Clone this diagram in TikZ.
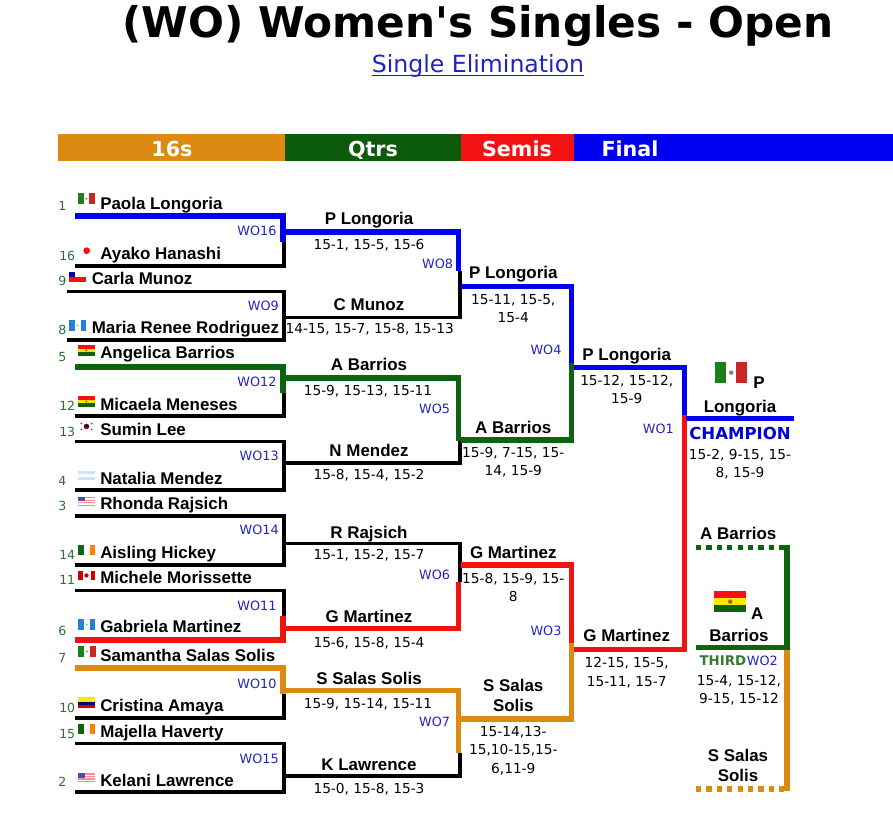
\documentclass[tikz,border=0pt]{standalone}
\usepackage{fontspec}
\setmainfont{Liberation Sans}
\newfontfamily\vd{DejaVu Sans}
\definecolor{cOr}{HTML}{DC8A12}
\definecolor{cGr}{HTML}{0E640E}
\definecolor{cRd}{HTML}{F21212}
\definecolor{cBl}{HTML}{0000F0}
\definecolor{cWo}{HTML}{2222C4}
\definecolor{cSeed}{HTML}{2E6E32}
\tikzset{
 plr/.style={anchor=base west,font=\fontsize{12.7pt}{15.5pt}\selectfont\bfseries,inner sep=0pt},
 winr/.style={anchor=base,align=center,font=\fontsize{12.7pt}{15.5pt}\selectfont\bfseries,inner sep=0pt},
 scr/.style={anchor=base,align=center,font=\vd\fontsize{10.3pt}{13.7pt}\selectfont,inner sep=0pt},
 seed/.style={anchor=base west,text=cSeed,font=\vd\fontsize{9.4pt}{11pt}\selectfont,inner sep=0pt},
 wo/.style={anchor=base east,text=cWo,font=\vd\fontsize{9.6pt}{11pt}\selectfont,inner sep=0pt},
 hd/.style={anchor=base,text=white,font=\vd\fontsize{15.5pt}{18pt}\selectfont\bfseries,inner sep=0pt},
 blk/.style={line width=2.6pt,black},
 vblk/.style={line width=2.3pt,black},
 thk/.style={line width=3.8pt,#1},
 dots/.style={line width=3.8pt,#1,dash pattern=on 3.9pt off 3.9pt}
}
\newcommand{\flagMx}[2]{\begin{scope}[shift={(#1)},scale=#2]
 \fill [green!45!black!90!white] (0,0) rectangle (6,11.5);
 \fill [red!75!black!85!white] (11.5,0) rectangle (17.5,11.5);
 \fill [gray] (8.75,5.75) circle (1.2);
\end{scope}}
\newcommand{\flagBo}[2]{\begin{scope}[shift={(#1)},scale=#2]
 \fill [cRd] (0,0) rectangle (17.5,3.8);
 \fill [yellow!90!orange] (0,3.8) rectangle (17.5,7.7);
 \fill [cGr] (0,7.7) rectangle (17.5,11.5);
 \fill [brown!80!black] (8.75,5.75) circle (1.2);
\end{scope}}
\newcommand{\flagGt}[1]{\begin{scope}[shift={(#1)}]
 \fill [blue!50!cyan!70!gray] (0,0) rectangle (6,11);
 \fill [blue!50!cyan!70!gray] (11.5,0) rectangle (17,11);
 \fill [gray!70!cyan] (8.5,5.5) circle (1);
\end{scope}}
\newcommand{\flagIe}[1]{\begin{scope}[shift={(#1)}]
 \fill [cGr] (0,0) rectangle (5.5,10);
 \fill [orange] (11.5,0) rectangle (17,10);
\end{scope}}
\newcommand{\flagUs}[1]{\begin{scope}[shift={(#1)}]
 \fill [red!45] (0,0) rectangle (17,9);
 \fill [white] (0,1.5) rectangle (17,2.6);
 \fill [white] (0,4) rectangle (17,5.1);
 \fill [white] (0,6.5) rectangle (17,7.6);
 \fill [blue!40!gray] (0,0) rectangle (7,4.5);
\end{scope}}

\begin{document}
\begin{tikzpicture}[x=0.75pt,y=0.75pt,yscale=-1,xscale=1]
 \useasboundingbox (0,0) rectangle (893,823);
 %title
 \draw (478,38) node (title) [anchor=base,inner sep=0pt,font=\vd\fontsize{31.7pt}{36pt}\selectfont\bfseries] {(WO) Women's Singles - Open};
 \draw (478,73) node (elim) [anchor=base,inner sep=0pt,text=cWo,font=\vd\fontsize{17.7pt}{20pt}\selectfont] {Single Elimination};
 \draw [cWo,line width=0.9pt] (372,75.5) -- (584,75.5);

 %header bar
 \fill [cOr] (58,134) rectangle (285,161);
 \fill [cGr!90!black] (285,134) rectangle (461,161);
 \fill [cRd] (461,134) rectangle (574,161);
 \fill [cBl] (574,134) rectangle (893,161);
 \draw (172,156.7) node (hSixteen) [hd] {16s};
 \draw (373,156.7) node (hQtrs) [hd] {Qtrs};
 \draw (517,156.7) node (hSemis) [hd] {Semis};
 \draw (630,156.7) node (hFinal) [hd] {Final};

 %first round
 \draw [thk=cBl] (75,216) -- (285.5,216);
 \draw [blk] (75,266) -- (285.5,266);
 \draw [blk] (67,291.3) -- (285.5,291.3);
 \draw [blk] (67,340) -- (285.5,340);
 \draw [thk=cGr] (75,367) -- (285.5,367);
 \draw [blk] (75,416) -- (285.5,416);
 \draw [blk] (75,441.5) -- (285.5,441.5);
 \draw [blk] (75,490) -- (285.5,490);
 \draw [blk] (75,516) -- (285.5,516);
 \draw [blk] (75,565) -- (285.5,565);
 \draw [blk] (75,590.5) -- (285.5,590.5);
 \draw [thk=cRd] (75,640) -- (285.5,640);
 \draw [thk=cOr] (75,668) -- (285.5,668);
 \draw [blk] (75,718) -- (285.5,718);
 \draw [blk] (75,743.5) -- (285.5,743.5);
 \draw [blk] (75,792) -- (285.5,792);
 \draw [vblk] (284,242) -- (284,267);
 \draw [vblk] (284,290) -- (284,341);
 \draw [vblk] (284,392) -- (284,417);
 \draw [vblk] (284,441) -- (284,491);
 \draw [vblk] (284,515) -- (284,566);
 \draw [vblk] (284,590) -- (284,616);
 \draw [vblk] (284,694) -- (284,719);
 \draw [vblk] (284,743) -- (284,793);
 \draw [thk=cBl] (283,214) -- (283,242.3);
 \draw [thk=cGr] (283,365) -- (283,392.7);
 \draw [thk=cRd] (283,615.7) -- (283,642);
 \draw [thk=cOr] (283,666) -- (283,694);

 %quarter finals
 \draw [thk=cBl] (285,232) -- (461,232);
 \draw [blk] (285,317.5) -- (461.5,317.5);
 \draw [thk=cGr] (285,378) -- (461,378);
 \draw [blk] (285,463) -- (461.5,463);
 \draw [blk] (285,543.7) -- (461.5,543.7);
 \draw [thk=cRd] (285,628.7) -- (461,628.7);
 \draw [thk=cOr] (285,690.3) -- (461,690.3);
 \draw [blk] (285,776) -- (461.5,776);
 \draw [vblk] (460,271) -- (460,318.5);
 \draw [vblk] (460,440) -- (460,464);
 \draw [vblk] (460,542.5) -- (460,582.3);
 \draw [vblk] (460,753) -- (460,777);
 \draw [thk=cBl] (458.7,230) -- (458.7,271);
 \draw [thk=cGr] (458.7,376) -- (458.7,441);
 \draw [thk=cRd] (458.7,582.3) -- (458.7,631);
 \draw [thk=cOr] (458.7,688) -- (458.7,753.3);

 %semi finals
 \draw [thk=cBl] (461,286.7) -- (574,286.7);
 \draw [thk=cGr] (461,440) -- (574,440);
 \draw [thk=cRd] (461,565) -- (574,565);
 \draw [thk=cOr] (461,719) -- (574,719);
 \draw [thk=cBl] (571.7,284.7) -- (571.7,362.7);
 \draw [thk=cGr] (571.7,362.7) -- (571.7,442);
 \draw [thk=cRd] (571.7,563) -- (571.7,642.7);
 \draw [thk=cOr] (571.7,642.7) -- (571.7,721);

 %final
 \draw [thk=cBl] (574,367.7) -- (686.5,367.7);
 \draw [thk=cRd] (574,649.3) -- (686.5,649.3);
 \draw [thk=cBl] (684.3,365.7) -- (684.3,415.3);
 \draw [thk=cRd] (684.3,415.3) -- (684.3,651.3);
 \draw [thk=cBl] (686,418.7) -- (793.5,418.7);

 %third place
 \draw [dots=cGr] (696,547.3) -- (789,547.3);
 \draw [thk=cGr] (696,647.7) -- (789,647.7);
 \draw [dots=cOr] (696,789) -- (789,789);
 \draw [thk=cGr] (787,545.3) -- (787,650);
 \draw [thk=cOr] (787,650) -- (787,791.3);

 %seeds
 \draw (58,210.7) node (sa) [seed] {1};
 \draw (59,260.7) node (sb) [seed] {16};
 \draw (58,285.7) node (sc) [seed] {9};
 \draw (58,334.3) node (sd) [seed] {8};
 \draw (58,361.7) node (se) [seed] {5};
 \draw (59,411) node (sf) [seed] {12};
 \draw (59,436.7) node (sg) [seed] {13};
 \draw (58,485.7) node (sh) [seed] {4};
 \draw (58,511) node (si) [seed] {3};
 \draw (59,559.3) node (sj) [seed] {14};
 \draw (59,585) node (sk) [seed] {11};
 \draw (58,635) node (sl) [seed] {6};
 \draw (58,662.7) node (sm) [seed] {7};
 \draw (59,712.7) node (sn) [seed] {10};
 \draw (59,738.3) node (so) [seed] {15};
 \draw (58,786.7) node (sp) [seed] {2};

 %flags
 \flagMx{77.7,193}{1}
 \fill [cRd] (86.7,250.7) circle (3.4);
 \begin{scope}[shift={(69,271.7)}]
  \fill [cRd] (0,5.2) rectangle (17,10.4);
  \fill [blue!70!black] (0,0) rectangle (5.5,5.2);
 \end{scope}
 \flagGt{69,320}
 \flagBo{78,345}{0.95}
 \flagBo{78,396}{0.95}
 \begin{scope}[shift={(86.5,426.5)}]
  \fill [red!70!black] (0,0) circle (2.8);
  \fill [blue!60!black] (-2.5,0.5) arc (180:360:2.5);
  \foreach \a in {30,150,210,330} \fill [black!65] (\a:6) circle (1);
 \end{scope}
 \begin{scope}[shift={(78,471)}]
  \fill [cyan!25] (0,0) rectangle (17,3);
  \fill [cyan!25] (0,6) rectangle (17,9);
 \end{scope}
 \flagUs{78,497}
 \flagIe{78,545}
 \begin{scope}[shift={(78,571)}]
  \fill [red!80!black] (0,0) rectangle (4.5,9);
  \fill [red!80!black] (12.5,0) rectangle (17,9);
  \fill [red!80!black] (8.5,4.5) circle (2.2);
 \end{scope}
 \flagGt{78,619}
 \flagMx{78,645.7}{1}
 \begin{scope}[shift={(78,696.7)}]
  \fill [yellow!90!orange] (0,0) rectangle (17,5.7);
  \fill [blue!55!black] (0,5.7) rectangle (17,8.6);
  \fill [red!80!black] (0,8.6) rectangle (17,11.4);
 \end{scope}
 \flagIe{78,724}
 \flagUs{78,773}

 %players
 \draw (100,209.3) node (paola) [plr] {Paola Longoria};
 \draw (100,260) node (ayako) [plr] {Ayako Hanashi};
 \draw (91.5,285) node (carla) [plr] {Carla Munoz};
 \draw (91.5,334) node (maria) [plr] {Maria Renee Rodriguez};
 \draw (100,358.3) node (angelica) [plr] {Angelica Barrios};
 \draw (100,410.7) node (micaela) [plr] {Micaela Meneses};
 \draw (100,436) node (sumin) [plr] {Sumin Lee};
 \draw (100,484.3) node (natalia) [plr] {Natalia Mendez};
 \draw (100,509.3) node (rhonda) [plr] {Rhonda Rajsich};
 \draw (100,559) node (aisling) [plr] {Aisling Hickey};
 \draw (100,584) node (michele) [plr] {Michele Morissette};
 \draw (100,632.7) node (gabriela) [plr] {Gabriela Martinez};
 \draw (100,661) node (samantha) [plr] {Samantha Salas Solis};
 \draw (100,711.7) node (cristina) [plr] {Cristina Amaya};
 \draw (100,737.3) node (majella) [plr] {Majella Haverty};
 \draw (100,786) node (kelani) [plr] {Kelani Lawrence};

 %match numbers
 \draw (276.7,236) node (woa) [wo] {WO16};
 \draw (279,311) node (wob) [wo] {WO9};
 \draw (276.7,387) node (woc) [wo] {WO12};
 \draw (279,461) node (wod) [wo] {WO13};
 \draw (279,535) node (woe) [wo] {WO14};
 \draw (276.7,610) node (wof) [wo] {WO11};
 \draw (276.7,688.3) node (wog) [wo] {WO10};
 \draw (279,763.3) node (woh) [wo] {WO15};
 \draw (453.3,268.3) node (woi) [wo] {WO8};
 \draw (450.3,414) node (woj) [wo] {WO5};
 \draw (450.3,579.3) node (wok) [wo] {WO6};
 \draw (450.3,726.7) node (wol) [wo] {WO7};
 \draw (561.7,355) node (wom) [wo] {WO4};
 \draw (561.7,635) node (won) [wo] {WO3};
 \draw (674,434) node (woo) [wo] {WO1};
 \draw (778,665.7) node (wop) [wo] {WO2};
 \draw (699.3,665.7) node (third) [anchor=base west,inner sep=0pt,text=cGr!85!white,font=\vd\fontsize{10pt}{12pt}\selectfont\bfseries] {THIRD};

 %quarter final winners
 \draw (369,225) node (qa) [winr] {P Longoria};
 \draw (369,311) node (qb) [winr] {C Munoz};
 \draw (369,371) node (qc) [winr] {A Barrios};
 \draw (369,456.7) node (qd) [winr] {N Mendez};
 \draw (369,538.3) node (qe) [winr] {R Rajsich};
 \draw (369,622.3) node (qf) [winr] {G Martinez};
 \draw (369,684) node (qg) [winr] {S Salas Solis};
 \draw (369,770) node (qh) [winr] {K Lawrence};
 \draw (369,250) node (xa) [scr] {15-1, 15-5, 15-6};
 \draw (369.7,334) node (xb) [scr] {14-15, 15-7, 15-8, 15-13};
 \draw (368,396) node (xc) [scr] {15-9, 15-13, 15-11};
 \draw (369,480) node (xd) [scr] {15-8, 15-4, 15-2};
 \draw (369,560) node (xe) [scr] {15-1, 15-2, 15-7};
 \draw (369,647) node (xf) [scr] {15-6, 15-8, 15-4};
 \draw (368,708) node (xg) [scr] {15-9, 15-14, 15-11};
 \draw (369,793) node (xh) [scr] {15-0, 15-8, 15-3};

 %semi final winners
 \draw (513.3,279) node (ra) [winr] {P Longoria};
 \draw (513.3,433.3) node (rb) [winr] {A Barrios};
 \draw (513.3,559) node (rc) [winr] {G Martinez};
 \draw (513.3,711.7) node (rd) [winr] {S Salas\\Solis};
 \draw (513.3,322.7) node (ya) [scr] {15-11, 15-5,\\15-4};
 \draw (513.3,476) node (yb) [scr] {15-9, 7-15, 15-\\14, 15-9};
 \draw (513.3,601.7) node (yc) [scr] {15-8, 15-9, 15-\\8};
 \draw (513.3,773) node (yd) [scr] {15-14,13-\\15,10-15,15-\\6,11-9};

 %final
 \draw (626.7,360.7) node (fa) [winr] {P Longoria};
 \draw (626.7,641.7) node (fb) [winr] {G Martinez};
 \draw (626.7,404) node (za) [scr] {15-12, 15-12,\\15-9};
 \draw (626.7,686) node (zb) [scr] {12-15, 15-5,\\15-11, 15-7};
 \flagMx{715,362}{1.85}
 \draw (740,412.7) node (champ) [winr] {\hspace*{28.5pt}P\\[2.3pt]Longoria};
 \draw (740,439.3) node (champt) [anchor=base,inner sep=0pt,text=cBl!90!black,font=\vd\fontsize{12.4pt}{15pt}\selectfont\bfseries] {CHAMPION};
 \draw (740,477.3) node (zc) [scr] {15-2, 9-15, 15-\\8, 15-9};
 \draw (738.3,540) node (tp) [winr] {A Barrios};
 \flagBo{714,591}{1.85}
 \draw (739,641.7) node (tpb) [winr] {\hspace*{27.5pt}A\\[0.8pt]Barrios};
 \draw (739,703.3) node (zd) [scr] {15-4, 15-12,\\9-15, 15-12};
 \draw (738,781.7) node (tq) [winr] {S Salas\\Solis};
\end{tikzpicture}
\end{document}
